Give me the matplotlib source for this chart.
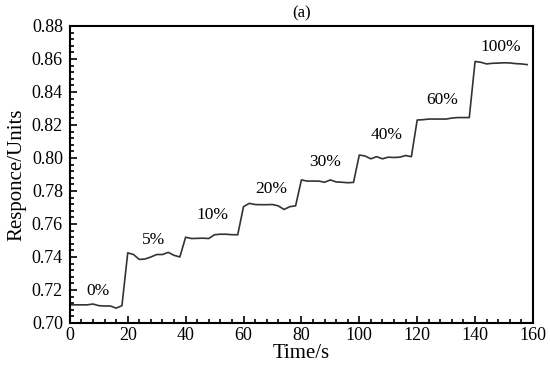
import matplotlib.pyplot as plt
from matplotlib.ticker import MultipleLocator

plt.rcParams['font.family'] = ['Liberation Serif', 'DejaVu Serif']

# time axis (s) and sensor response
zaman = list(range(0, 160, 2))
yanit = [0.711, 0.711, 0.711, 0.711, 0.7115, 0.7105, 0.7103, 0.7103, 0.709, 0.7105,
         0.7425, 0.7415, 0.7385, 0.7388, 0.740, 0.7415, 0.7415, 0.7428, 0.741, 0.740,
         0.752, 0.7512, 0.7513, 0.7514, 0.7512, 0.7535, 0.7538, 0.7538, 0.7535, 0.7535,
         0.7705, 0.7725, 0.7718, 0.7717, 0.7717, 0.7718, 0.771, 0.7688, 0.7705, 0.771,
         0.7867, 0.786, 0.786, 0.786, 0.7853, 0.7867, 0.7855, 0.7853, 0.785, 0.7852,
         0.8018, 0.8012, 0.7995, 0.8008, 0.7995, 0.8005, 0.8003, 0.8005, 0.8015, 0.8008,
         0.823, 0.8232, 0.8236, 0.8236, 0.8236, 0.8236, 0.8242, 0.8245, 0.8245, 0.8245,
         0.8585, 0.858, 0.857, 0.8574, 0.8575, 0.8577, 0.8576, 0.8572, 0.857, 0.8566]

# concentration labels
etiketler = ['0%', '5%', '10%', '20%', '30%', '40%', '60%', '100%']
etiket_x = [9.7, 29, 49.3, 69.7, 88.1, 109.4, 128.8, 148.9]
etiket_y = [0.7194, 0.7503, 0.7655, 0.7812, 0.7978, 0.8139, 0.8352, 0.8675]

fig = plt.figure(figsize=(5.5, 3.66), dpi=100)
ax = fig.add_axes([0.127, 0.1175, 0.842, 0.8115])

ax.plot(zaman, yanit, color='#333333', lw=1.2)

for e, x, y in zip(etiketler, etiket_x, etiket_y):
    ax.text(x, y, e, ha='center', va='center', fontsize=12.5)

ax.set_xlim(0, 160)
ax.set_ylim(0.70, 0.88)
ax.xaxis.set_major_locator(MultipleLocator(20))
ax.xaxis.set_minor_locator(MultipleLocator(4))
ax.yaxis.set_major_locator(MultipleLocator(0.02))
ax.yaxis.set_minor_locator(MultipleLocator(0.004))
ax.yaxis.set_major_formatter(plt.FormatStrFormatter('%.2f'))
ax.tick_params(which='both', direction='in', labelsize=13, width=1.2)
ax.tick_params(which='major', length=5)
ax.tick_params(which='minor', length=3)
ax.tick_params(axis='x', pad=3)
ax.tick_params(axis='y', pad=5)
for s in ax.spines.values():
    s.set_linewidth(1.5)

ax.set_xlabel('Time/s', fontsize=15, labelpad=0)
ax.set_ylabel('Responce/Units', fontsize=15, labelpad=4)
ax.set_title('(a)', fontsize=12, pad=6)

plt.savefig('out.png', dpi=100)
